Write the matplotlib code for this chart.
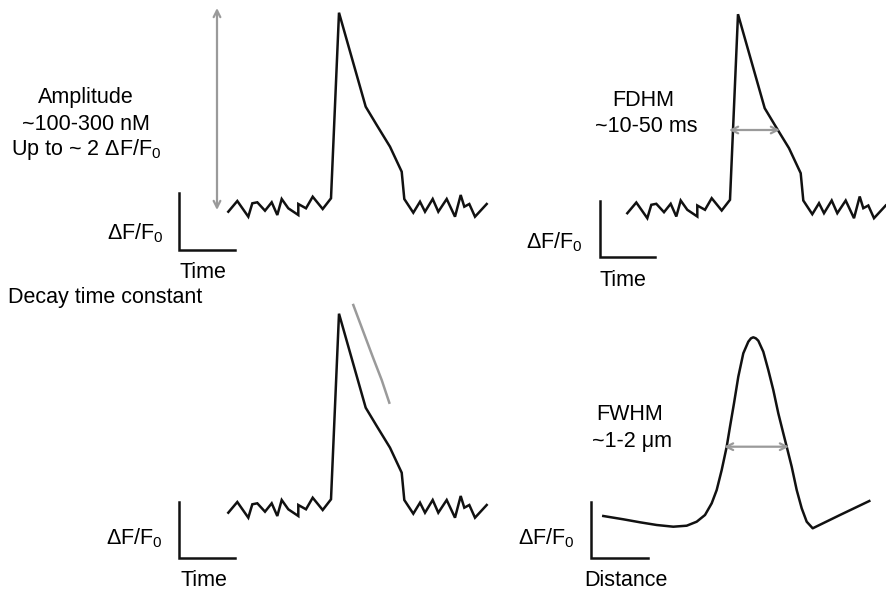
import numpy as np
import matplotlib
matplotlib.use("Agg")
import matplotlib.pyplot as plt

plt.rcParams['font.family'] = ['Liberation Sans', 'DejaVu Sans']
plt.rcParams['mathtext.fontset'] = 'custom'
plt.rcParams['mathtext.rm'] = 'Liberation Sans'
plt.rcParams['mathtext.it'] = 'Liberation Sans'

# Spark trace (read in pixels of the top-left panel)
spark_x = [228.3, 237.3, 248.3, 252.3, 257.3, 265.0, 271.7, 277.3, 281.7, 288.3,
           298.3, 298.3, 306.0, 312.7, 322.7, 331.0, 339.0, 365.7, 376.7, 390.0,
           401.7, 404.3, 413.3, 420.0, 425.0, 432.7, 438.3, 446.7, 455.0, 460.7,
           464.3, 469.3, 475.0, 486.7]
spark_y = [211.7, 201.0, 216.7, 203.3, 202.3, 210.7, 202.3, 215.0, 199.0, 208.3,
           215.0, 204.0, 208.3, 196.7, 209.0, 198.3, 12.7, 106.7, 125.0, 146.7,
           171.7, 199.0, 212.7, 201.7, 211.7, 199.0, 211.7, 199.0, 216.7, 195.0,
           206.7, 204.0, 216.7, 204.0]

# where each copy of the spark goes (dx, dy)
spark_shift = {"amp": (0, 0), "fdhm": (399, 1.5), "decay": (0, 301)}

# spatial profile (bottom-right panel)
prof_x = [603.3, 623.3, 640.0, 656.7, 673.3, 686.7, 696.7, 705.0, 711.7, 716.7,
          721.7, 726.7, 730.0, 734.0, 738.3, 743.3, 748.3, 751.0, 753.3, 755.8,
          758.3, 763.3, 768.3, 773.3, 778.3, 783.3, 786.7, 791.7, 796.7, 801.7,
          806.7, 812.7, 840.0, 869.3]
prof_y = [516.0, 519.3, 522.3, 525.0, 526.7, 525.7, 521.7, 515.0, 503.3, 490.0,
          470.0, 446.7, 426.7, 403.3, 376.7, 353.3, 341.7, 338.3, 337.3, 338.3,
          340.7, 351.7, 370.0, 390.0, 413.3, 433.3, 446.7, 466.7, 490.0, 508.3,
          521.7, 528.3, 515.0, 501.0]

# decay fit (grey)
decay_x = [353.3, 363.3, 373.3, 381.7, 389.3]
decay_y = [305.0, 331.7, 358.3, 380.0, 402.7]

grey = '#9a9a9a'
fs = 15.5

fig = plt.figure(figsize=(8.87, 5.90), dpi=100)
ax = fig.add_axes([0, 0, 1, 1])
ax.set_xlim(0, 887)
ax.set_ylim(590, 0)
ax.axis('off')

# spark traces
for key, (dx, dy) in spark_shift.items():
    ax.plot(np.array(spark_x) + dx, np.array(spark_y) + dy, color='#111111',
            lw=1.8, solid_joinstyle='miter')

ax.plot(prof_x, prof_y, color='#111111', lw=1.8)
ax.plot(decay_x, decay_y, color=grey, lw=1.8)

# grey arrows
arrow = dict(arrowstyle='<->', color=grey, lw=1.6, mutation_scale=12,
             shrinkA=0, shrinkB=0)
ax.annotate('', xy=(217, 8), xytext=(217, 210), arrowprops=arrow)
ax.annotate('', xy=(729, 130), xytext=(780, 130), arrowprops=arrow)
ax.annotate('', xy=(724, 446.7), xytext=(789, 446.7), arrowprops=arrow)

# scale bars
bars = [(179, 193, 250, 235), (600, 201, 257, 655),
        (179, 502, 558, 235), (591, 502, 558, 648)]
for x0, ytop, ybot, x1 in bars:
    ax.plot([x0, x0, x1], [ytop, ybot, ybot], color='#111111', lw=1.8,
            solid_joinstyle='miter')

dff = r'ΔF/F$_0$'
ax.text(164, 233, dff, ha='right', va='center', fontsize=fs)
ax.text(203, 273, 'Time', ha='center', va='center', fontsize=fs)
ax.text(583, 242, dff, ha='right', va='center', fontsize=fs)
ax.text(623, 280, 'Time', ha='center', va='center', fontsize=fs)
ax.text(163, 538, dff, ha='right', va='center', fontsize=fs)
ax.text(204, 581, 'Time', ha='center', va='center', fontsize=fs)
ax.text(575, 538, dff, ha='right', va='center', fontsize=fs)
ax.text(626, 581, 'Distance', ha='center', va='center', fontsize=fs)

# annotations
ax.text(86, 98, 'Amplitude', ha='center', va='center', fontsize=fs)
ax.text(86, 124, '~100-300 nM', ha='center', va='center', fontsize=fs)
ax.text(86, 150, r'Up to ~ 2 ΔF/F$_0$', ha='center', va='center', fontsize=fs)
ax.text(643, 100, 'FDHM', ha='center', va='center', fontsize=fs)
ax.text(646, 126, '~10-50 ms', ha='center', va='center', fontsize=fs)
ax.text(8, 298, 'Decay time constant', ha='left', va='center', fontsize=fs)
ax.text(630, 415, 'FWHM', ha='center', va='center', fontsize=fs)
ax.text(632, 441, '~1-2 μm', ha='center', va='center', fontsize=fs)

fig.savefig('out.png', dpi=100)
